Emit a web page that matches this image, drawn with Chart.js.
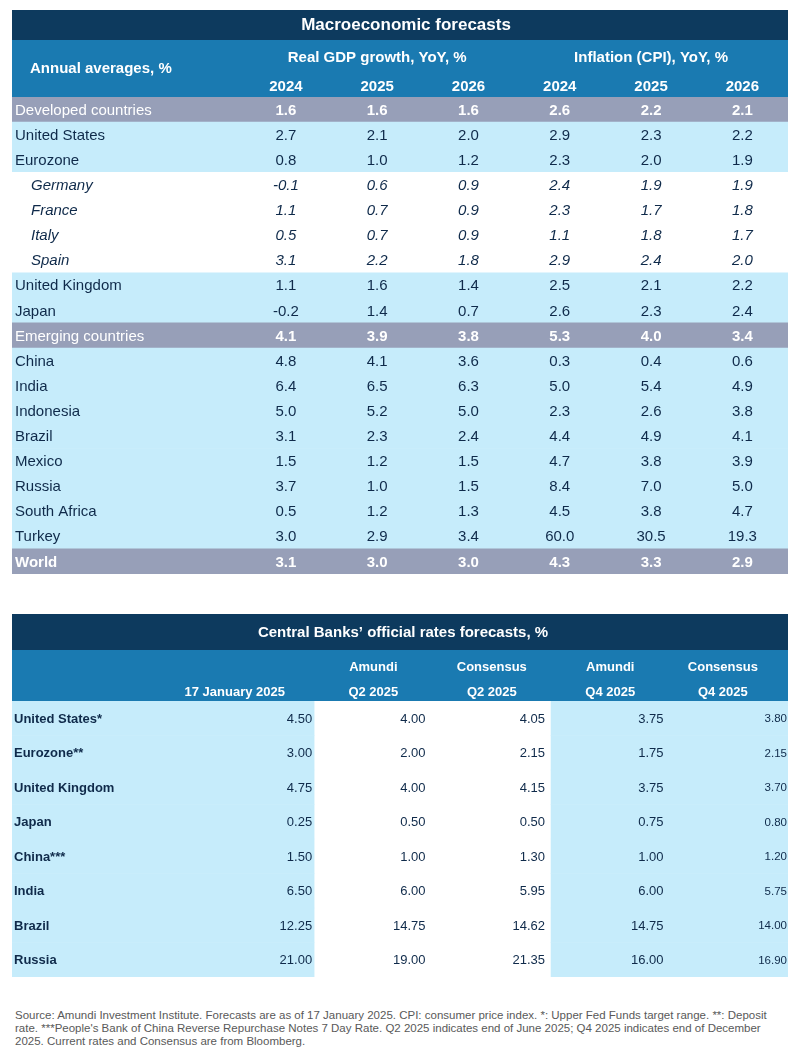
<!DOCTYPE html>
<html>
<head>
<meta charset="utf-8">
<script src="https://cdn.jsdelivr.net/npm/chart.js@4.4.1/dist/chart.umd.min.js"></script>
<style>
  body { margin: 0; background: #fff; font-family: "Liberation Sans", Arial, sans-serif; }
  #wrap { position: relative; width: 800px; height: 1056px; }
  canvas { display: block; }
  #note { position: absolute; left: 15px; top: 1009px; width: 780px; font-size: 11.5px; line-height: 13px; color: #595959; white-space: nowrap; }
</style>
</head>
<body>
<div id="wrap">
  <canvas id="macro" width="800" height="590"></canvas>
  <canvas id="rates" width="800" height="410"></canvas>
  <div id="note">Source: Amundi Investment Institute. Forecasts are as of 17 January 2025. CPI: consumer price index. *: Upper Fed Funds target range. **: Deposit<br>rate. ***People's Bank of China Reverse Repurchase Notes 7 Day Rate. Q2 2025 indicates end of June 2025; Q4 2025 indicates end of December<br>2025. Current rates and Consensus are from Bloomberg.</div>
</div>
<script>
// MACRO TABLE DATA
const countries = ["Developed countries", "United States", "Eurozone", "Germany", "France", "Italy", "Spain",
  "United Kingdom", "Japan", "Emerging countries", "China", "India", "Indonesia", "Brazil", "Mexico",
  "Russia", "South Africa", "Turkey", "World"];
const rowKind = ["group", "country", "country", "sub", "sub", "sub", "sub", "country", "country", "group",
  "country", "country", "country", "country", "country", "country", "country", "country", "total"];
const years = ["2024", "2025", "2026"];
const gdp2024 = [1.6, 2.7, 0.8, -0.1, 1.1, 0.5, 3.1, 1.1, -0.2, 4.1, 4.8, 6.4, 5.0, 3.1, 1.5, 3.7, 0.5, 3.0, 3.1];
const gdp2025 = [1.6, 2.1, 1.0, 0.6, 0.7, 0.7, 2.2, 1.6, 1.4, 3.9, 4.1, 6.5, 5.2, 2.3, 1.2, 1.0, 1.2, 2.9, 3.0];
const gdp2026 = [1.6, 2.0, 1.2, 0.9, 0.9, 0.9, 1.8, 1.4, 0.7, 3.8, 3.6, 6.3, 5.0, 2.4, 1.5, 1.5, 1.3, 3.4, 3.0];
const cpi2024 = [2.6, 2.9, 2.3, 2.4, 2.3, 1.1, 2.9, 2.5, 2.6, 5.3, 0.3, 5.0, 2.3, 4.4, 4.7, 8.4, 4.5, 60.0, 4.3];
const cpi2025 = [2.2, 2.3, 2.0, 1.9, 1.7, 1.8, 2.4, 2.1, 2.3, 4.0, 0.4, 5.4, 2.6, 4.9, 3.8, 7.0, 3.8, 30.5, 3.3];
const cpi2026 = [2.1, 2.2, 1.9, 1.9, 1.8, 1.7, 2.0, 2.2, 2.4, 3.4, 0.6, 4.9, 3.8, 4.1, 3.9, 5.0, 4.7, 19.3, 2.9];

// CENTRAL BANK DATA
const banks = ["United States*", "Eurozone**", "United Kingdom", "Japan", "China***", "India", "Brazil", "Russia"];
const rateHeadTop = ["", "Amundi", "Consensus", "Amundi", "Consensus"];
const rateHeadBottom = ["17 January 2025", "Q2 2025", "Q2 2025", "Q4 2025", "Q4 2025"];
const rateNow = [4.50, 3.00, 4.75, 0.25, 1.50, 6.50, 12.25, 21.00];
const amundiQ2 = [4.00, 2.00, 4.00, 0.50, 1.00, 6.00, 14.75, 19.00];
const consQ2 = [4.05, 2.15, 4.15, 0.50, 1.30, 5.95, 14.62, 21.35];
const amundiQ4 = [3.75, 1.75, 3.75, 0.75, 1.00, 6.00, 14.75, 16.00];
const consQ4 = [3.80, 2.15, 3.70, 0.80, 1.20, 5.75, 14.00, 16.90];

const NAVY = "#0d3a5e";
const BLUE = "#1a7ab1";
const GREY = "#979fb8";
const LIGHT = "#c6ecfb";
const INK = "#0f2a4a";
const FONT = '"Liberation Sans", Arial, sans-serif';

function rowColor(k) {
  if (k === "group" || k === "total") return GREY;
  if (k === "sub") return "#ffffff";
  return LIGHT;
}

function txt(ctx, s, x, y, font, color, align) {
  ctx.font = font;
  ctx.fillStyle = color;
  ctx.textAlign = align || "center";
  ctx.textBaseline = "middle";
  ctx.fillText(s, x, y);
}

// MACRO TABLE
const macroCols = [gdp2024, gdp2025, gdp2026, cpi2024, cpi2025, cpi2026];

const macroPlugin = {
  id: "macroTable",
  beforeDatasetsDraw(chart) {
    const { ctx, chartArea: a } = chart;
    ctx.save();
    ctx.fillStyle = NAVY;
    ctx.fillRect(a.left, a.top - 87, a.right - a.left, 30);
    ctx.fillStyle = BLUE;
    ctx.fillRect(a.left, a.top - 57, a.right - a.left, 57);
    ctx.restore();
  },
  afterDatasetsDraw(chart) {
    const { ctx, chartArea: a, scales: { x, y } } = chart;
    ctx.save();
    txt(ctx, "Macroeconomic forecasts", (a.left + a.right) / 2 + 6, a.top - 72, "bold 17px " + FONT, "#fff");
    txt(ctx, "Annual averages, %", a.left + 18, a.top - 28, "bold 15px " + FONT, "#fff", "left");
    txt(ctx, "Real GDP growth, YoY, %", x.getPixelForValue(1.5), a.top - 39, "bold 15px " + FONT, "#fff");
    txt(ctx, "Inflation (CPI), YoY, %", x.getPixelForValue(4.5), a.top - 39, "bold 15px " + FONT, "#fff");
    macroCols.forEach((col, c) => {
      txt(ctx, years[c % 3], x.getPixelForValue(c + 0.5), a.top - 10, "bold 15px " + FONT, "#fff");
    });

    countries.forEach((name, i) => {
      const k = rowKind[i];
      const yy = y.getPixelForValue(i) + 1;
      const onGrey = k === "group" || k === "total";
      const color = onGrey ? "#fff" : INK;
      const style = k === "sub" ? "italic " : "";
      const labelFont = (k === "total" ? "bold " : style) + "15px " + FONT;
      txt(ctx, name, a.left + (k === "sub" ? 19 : 3), yy, labelFont, color, "left");
      const valFont = (onGrey ? "bold " : style) + "15px " + FONT;
      macroCols.forEach((col, c) => {
        txt(ctx, col[i].toFixed(1), x.getPixelForValue(c + 0.5), yy, valFont, color);
      });
    });
    ctx.restore();
  }
};

new Chart(document.getElementById("macro").getContext("2d"), {
  type: "bar",
  data: {
    labels: countries,
    datasets: [{
      data: countries.map(() => [-2.5, 6]),
      backgroundColor: rowKind.map(rowColor),
      barPercentage: 1,
      categoryPercentage: 1,
      borderWidth: 0
    }]
  },
  options: {
    indexAxis: "y",
    responsive: false,
    animation: false,
    devicePixelRatio: 1,
    layout: { padding: { top: 97, left: 12, right: 12, bottom: 16 } },
    scales: {
      x: { type: "linear", min: -2.5, max: 6, display: false },
      y: { type: "category", display: false }
    },
    plugins: { legend: { display: false }, tooltip: { enabled: false } }
  },
  plugins: [macroPlugin]
});

// CENTRAL BANKS TABLE
const rateCols = [rateNow, amundiQ2, consQ2, amundiQ4, consQ4];
const headPos = [0.33, 1.5, 2.5, 3.5, 4.45];
const valuePad = [2, 7, 6, 6, 1];

const ratesPlugin = {
  id: "ratesTable",
  beforeDatasetsDraw(chart) {
    const { ctx, chartArea: a } = chart;
    ctx.save();
    ctx.fillStyle = NAVY;
    ctx.fillRect(a.left, a.top - 87, a.right - a.left, 36);
    ctx.fillStyle = BLUE;
    ctx.fillRect(a.left, a.top - 51, a.right - a.left, 51);
    ctx.restore();
  },
  afterDatasetsDraw(chart) {
    const { ctx, chartArea: a, scales: { x, y } } = chart;
    ctx.save();
    txt(ctx, "Central Banks\u2019 official rates forecasts, %", (a.left + a.right) / 2 + 3, a.top - 68, "bold 15px " + FONT, "#fff");
    rateCols.forEach((col, c) => {
      const hx = x.getPixelForValue(headPos[c]);
      if (rateHeadTop[c]) txt(ctx, rateHeadTop[c], hx, a.top - 34, "bold 13px " + FONT, "#fff");
      txt(ctx, rateHeadBottom[c], hx, a.top - 9, "bold 13px " + FONT, "#fff");
    });
    banks.forEach((name, i) => {
      const yy = y.getPixelForValue(i) + 1;
      txt(ctx, name, a.left + 2, yy, "bold 13px " + FONT, INK, "left");
      rateCols.forEach((col, c) => {
        const f = (c === 4 ? "11.5px " : "13px ") + FONT;
        txt(ctx, col[i].toFixed(2), x.getPixelForValue(c + 1) - valuePad[c], yy, f, INK, "right");
      });
    });
    ctx.restore();
  }
};

new Chart(document.getElementById("rates").getContext("2d"), {
  type: "bar",
  data: {
    labels: banks,
    datasets: [{
      data: banks.map(() => [-1.55, 1]),
      backgroundColor: LIGHT,
      grouped: false,
      barPercentage: 1,
      categoryPercentage: 1,
      borderWidth: 0
    }, {
      data: banks.map(() => [3, 5]),
      backgroundColor: LIGHT,
      grouped: false,
      barPercentage: 1,
      categoryPercentage: 1,
      borderWidth: 0
    }]
  },
  options: {
    indexAxis: "y",
    responsive: false,
    animation: false,
    devicePixelRatio: 1,
    layout: { padding: { top: 111, left: 12, right: 12, bottom: 23 } },
    scales: {
      x: { type: "linear", min: -1.55, max: 5, display: false },
      y: { type: "category", display: false }
    },
    plugins: { legend: { display: false }, tooltip: { enabled: false } }
  },
  plugins: [ratesPlugin]
});
</script>
</body>
</html>
